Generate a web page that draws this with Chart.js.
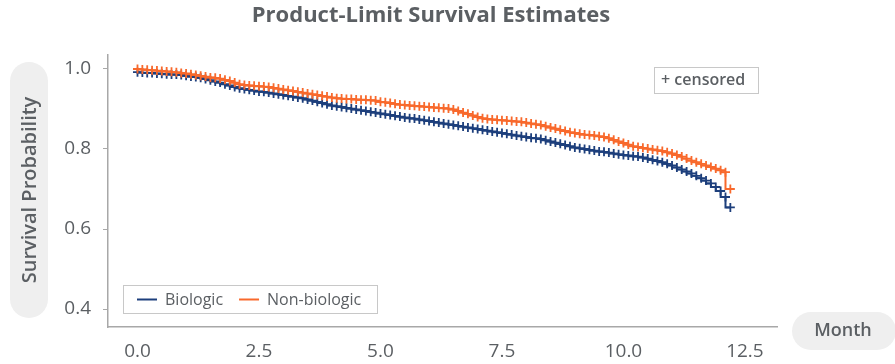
<!DOCTYPE html>
<html>
<head>
<meta charset="utf-8">
<script src="https://cdn.jsdelivr.net/npm/chart.js@4.4.0/dist/chart.umd.min.js"></script>
<style>
    html, body { margin: 0; padding: 0; background: #ffffff; }
    #wrap { width: 895px; height: 364px; position: relative; }
</style>
</head>
<body>
<div id="wrap"><canvas id="kmChart" width="895" height="364"></canvas></div>
<script>
// Survival estimates (one censor mark every ~0.1 month)
const months = [
    0.0, 0.1, 0.2, 0.3, 0.4, 0.5, 0.6, 0.7, 0.8, 0.9,
    1.0, 1.1, 1.2, 1.3, 1.4, 1.5, 1.6, 1.7, 1.8, 1.9,
    2.0, 2.1, 2.2, 2.3, 2.4, 2.5, 2.6, 2.7, 2.8, 2.9,
    3.0, 3.1, 3.2, 3.3, 3.4, 3.5, 3.6, 3.7, 3.8, 3.9,
    4.0, 4.1, 4.2, 4.3, 4.4, 4.5, 4.6, 4.7, 4.8, 4.9,
    5.0, 5.1, 5.2, 5.3, 5.4, 5.5, 5.6, 5.7, 5.8, 5.9,
    6.0, 6.1, 6.2, 6.3, 6.4, 6.5, 6.6, 6.7, 6.8, 6.9,
    7.0, 7.1, 7.2, 7.3, 7.4, 7.5, 7.6, 7.7, 7.8, 7.9,
    8.0, 8.1, 8.2, 8.3, 8.4, 8.5, 8.6, 8.7, 8.8, 8.9,
    9.0, 9.1, 9.2, 9.3, 9.4, 9.5, 9.6, 9.7, 9.8, 9.9,
    10.0, 10.1, 10.2, 10.3, 10.4, 10.5, 10.6, 10.7, 10.8, 10.9,
    11.0, 11.1, 11.2, 11.3, 11.4, 11.5, 11.6, 11.7, 11.8, 11.9,
    12.0, 12.1, 12.2
];

const biologic = [
    0.992, 0.991, 0.990, 0.990, 0.989, 0.988, 0.987, 0.986, 0.986, 0.985,
    0.983, 0.981, 0.980, 0.978, 0.975, 0.972, 0.969, 0.966, 0.962, 0.959,
    0.955, 0.952, 0.950, 0.948, 0.946, 0.944, 0.943, 0.941, 0.939, 0.937,
    0.935, 0.933, 0.931, 0.929, 0.927, 0.924, 0.921, 0.918, 0.915, 0.912,
    0.909, 0.907, 0.905, 0.903, 0.901, 0.899, 0.897, 0.895, 0.893, 0.891,
    0.889, 0.887, 0.885, 0.883, 0.881, 0.879, 0.877, 0.876, 0.874, 0.872,
    0.870, 0.868, 0.866, 0.864, 0.862, 0.860, 0.858, 0.856, 0.854, 0.852,
    0.850, 0.848, 0.846, 0.844, 0.842, 0.840, 0.838, 0.836, 0.834, 0.832,
    0.830, 0.828, 0.827, 0.825, 0.822, 0.819, 0.816, 0.813, 0.810, 0.807,
    0.804, 0.802, 0.800, 0.798, 0.796, 0.794, 0.793, 0.791, 0.789, 0.787,
    0.785, 0.784, 0.782, 0.781, 0.779, 0.776, 0.773, 0.770, 0.767, 0.763,
    0.759, 0.754, 0.749, 0.744, 0.739, 0.733, 0.727, 0.721, 0.714, 0.705,
    0.695, 0.680, 0.654
];

const nonBiologic = [
    1.000, 0.999, 0.998, 0.997, 0.996, 0.995, 0.994, 0.993, 0.992, 0.990,
    0.989, 0.987, 0.985, 0.983, 0.981, 0.979, 0.978, 0.976, 0.973, 0.970,
    0.966, 0.962, 0.960, 0.959, 0.958, 0.957, 0.956, 0.955, 0.953, 0.951,
    0.949, 0.947, 0.945, 0.943, 0.941, 0.939, 0.937, 0.935, 0.933, 0.931,
    0.929, 0.927, 0.926, 0.925, 0.925, 0.924, 0.923, 0.923, 0.922, 0.921,
    0.918, 0.917, 0.915, 0.913, 0.911, 0.910, 0.909, 0.908, 0.907, 0.906,
    0.905, 0.904, 0.903, 0.902, 0.901, 0.899, 0.895, 0.891, 0.888, 0.884,
    0.880, 0.877, 0.875, 0.874, 0.873, 0.872, 0.871, 0.870, 0.869, 0.868,
    0.866, 0.864, 0.862, 0.860, 0.857, 0.854, 0.851, 0.848, 0.845, 0.842,
    0.840, 0.838, 0.836, 0.835, 0.834, 0.832, 0.830, 0.827, 0.823, 0.819,
    0.815, 0.811, 0.807, 0.805, 0.803, 0.801, 0.799, 0.797, 0.795, 0.792,
    0.789, 0.785, 0.781, 0.776, 0.771, 0.767, 0.763, 0.759, 0.755, 0.751,
    0.747, 0.742, 0.700
];

const seriesNames = ['Biologic', 'Non-biologic'];
const seriesValues = [biologic, nonBiologic];
const seriesColors = ['#1d3f7c', '#f8692c'];
const xTicks = [0, 2.5, 5, 7.5, 10, 12.5];
const yTicks = [0.4, 0.6, 0.8, 1.0];

const FONT = '"Open Sans", "DejaVu Sans", sans-serif';
const TEXT = '#5b5f63';
const AXIS = '#a8a8a8';
const PILL = '#efefef';

function toPoints(values) {
    return months.map((m, i) => ({ x: m, y: values[i] }));
}

function roundRect(c, x, y, w, h, r) {
    c.beginPath();
    c.moveTo(x + r, y);
    c.arcTo(x + w, y, x + w, y + h, r);
    c.arcTo(x + w, y + h, x, y + h, r);
    c.arcTo(x, y + h, x, y, r);
    c.arcTo(x, y, x + w, y, r);
    c.closePath();
}

// Title, axis-title pills, legend and the "+ censored" note
const decorations = {
    id: 'decorations',
    afterDraw(chart) {
        const c = chart.ctx;
        const area = chart.chartArea;
        c.save();

        // title
        c.fillStyle = TEXT;
        c.font = 'bold 22px ' + FONT;
        c.textAlign = 'center';
        c.textBaseline = 'middle';
        c.fillText('Product-Limit Survival Estimates', 431, 16);

        // y title pill
        c.fillStyle = PILL;
        roundRect(c, 10, 62, 38, 256, 19);
        c.fill();
        c.save();
        c.translate(30, 190);
        c.rotate(-Math.PI / 2);
        c.fillStyle = TEXT;
        c.font = '600 20px ' + FONT;
        c.fillText('Survival Probability', 0, 0);
        c.restore();

        // x title pill
        c.fillStyle = PILL;
        roundRect(c, 792, 312, 104, 38, 19);
        c.fill();
        c.fillStyle = TEXT;
        c.font = '600 18px ' + FONT;
        c.fillText('Month', 843, 331);

        // censored note
        c.fillStyle = '#ffffff';
        c.fillRect(area.right - 123, 67, 104, 26);
        c.strokeStyle = '#c8c8c8';
        c.lineWidth = 1;
        c.strokeRect(area.right - 123 + 0.5, 67.5, 104, 26);
        c.fillStyle = TEXT;
        c.font = '600 16px ' + FONT;
        c.textAlign = 'left';
        c.fillText('+ censored', area.right - 116, 80);

        // legend
        c.fillStyle = '#ffffff';
        c.fillRect(area.left + 15, 285, 254, 28);
        c.strokeStyle = '#c8c8c8';
        c.strokeRect(area.left + 15.5, 285.5, 254, 28);
        c.font = '16px ' + FONT;
        let lx = area.left + 29;
        seriesNames.forEach((name, i) => {
            c.strokeStyle = seriesColors[i];
            c.lineWidth = 2;
            c.beginPath();
            c.moveTo(lx, 299.5);
            c.lineTo(lx + 20, 299.5);
            c.stroke();
            c.fillStyle = TEXT;
            c.fillText(name, lx + 28, 300);
            lx += 28 + c.measureText(name).width + 16;
        });

        c.restore();
    }
};

const ctx = document.getElementById('kmChart').getContext('2d');

new Chart(ctx, {
    type: 'line',
    data: {
        // non-biologic first so the biologic curve is drawn on top
        datasets: [1, 0].map((i) => ({
            label: seriesNames[i],
            data: toPoints(seriesValues[i]),
            borderColor: seriesColors[i],
            backgroundColor: seriesColors[i],
            borderWidth: 2,
            stepped: 'after',
            pointStyle: 'cross',
            pointRadius: 4.5,
            pointBorderWidth: 1.8,
            fill: false
        }))
    },
    options: {
        responsive: false,
        animation: false,
        devicePixelRatio: 1,
        layout: {
            padding: { left: 0, top: 55, right: 118, bottom: 0 }
        },
        plugins: {
            legend: { display: false },
            title: { display: false },
            tooltip: { enabled: false }
        },
        scales: {
            x: {
                type: 'linear',
                min: -0.607,
                max: 13.16,
                afterFit(scale) { scale.height = 37; },
                afterBuildTicks(scale) {
                    scale.ticks = xTicks.map(v => ({ value: v }));
                },
                grid: { display: false },
                border: { display: true, color: AXIS, width: 1.5 },
                ticks: {
                    color: TEXT,
                    padding: 5,
                    font: { family: FONT, size: 19 },
                    callback: (v) => v.toFixed(1)
                }
            },
            y: {
                type: 'linear',
                min: 0.355,
                max: 1.035,
                afterFit(scale) { scale.width = 108; },
                afterBuildTicks(scale) {
                    scale.ticks = yTicks.map(v => ({ value: v }));
                },
                grid: {
                    display: true,
                    drawOnChartArea: false,
                    drawTicks: true,
                    tickLength: 5,
                    color: AXIS
                },
                border: { display: true, color: AXIS, width: 1.5 },
                ticks: {
                    color: TEXT,
                    padding: 12,
                    font: { family: FONT, size: 19 },
                    callback: (v) => v.toFixed(1)
                }
            }
        }
    },
    plugins: [decorations]
});
</script>
</body>
</html>
